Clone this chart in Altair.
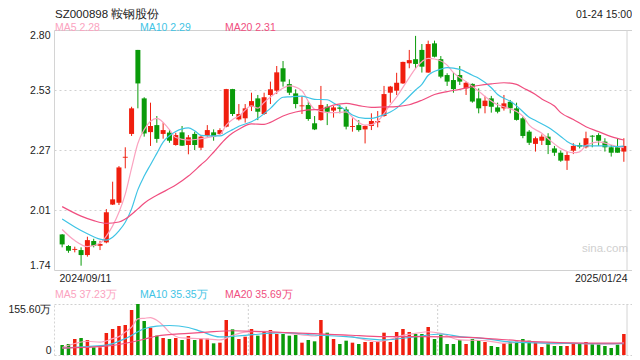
import altair as alt
import pandas as pd

# ---------------- data ----------------
x_tick_values = [-0.5, 89.5]
x_tick_labels = ["2024/09/11", "2025/01/24"]

opens = [1.897, 1.846, 1.829, 1.828, 1.806, 1.868, 1.847, 1.862, 2.029, 2.037,
         2.236, 2.341, 2.712, 2.498, 2.349, 2.380, 2.341, 2.347, 2.292, 2.348,
         2.292, 2.341, 2.280, 2.333, 2.348, 2.341, 2.373, 2.539, 2.405, 2.410,
         2.461, 2.498, 2.429, 2.513, 2.532, 2.631, 2.561, 2.520, 2.463, 2.469,
         2.388, 2.402, 2.461, 2.444, 2.458, 2.449, 2.372, 2.380, 2.361, 2.376,
         2.392, 2.420, 2.523, 2.532, 2.564, 2.653, 2.671, 2.712, 2.612, 2.741,
         2.671, 2.601, 2.579, 2.601, 2.542, 2.562, 2.498, 2.464, 2.498, 2.458,
         2.454, 2.483, 2.454, 2.410, 2.351, 2.297, 2.311, 2.329, 2.277, 2.258,
         2.223, 2.267, 2.292, 2.282, 2.333, 2.336, 2.307, 2.282, 2.282, 2.263]
closes = [1.853, 1.825, 1.833, 1.806, 1.872, 1.846, 1.855, 1.995, 2.052, 2.193,
          2.240, 2.454, 2.564, 2.343, 2.376, 2.319, 2.358, 2.311, 2.336, 2.289,
          2.326, 2.292, 2.329, 2.358, 2.329, 2.358, 2.539, 2.429, 2.429, 2.454,
          2.486, 2.439, 2.503, 2.538, 2.613, 2.572, 2.523, 2.473, 2.467, 2.407,
          2.361, 2.469, 2.439, 2.458, 2.452, 2.373, 2.376, 2.358, 2.376, 2.398,
          2.398, 2.517, 2.550, 2.567, 2.659, 2.667, 2.650, 2.638, 2.738, 2.682,
          2.594, 2.572, 2.539, 2.572, 2.567, 2.484, 2.454, 2.488, 2.461, 2.439,
          2.476, 2.454, 2.403, 2.332, 2.302, 2.322, 2.329, 2.292, 2.258, 2.223,
          2.248, 2.288, 2.285, 2.322, 2.329, 2.311, 2.282, 2.258, 2.258, 2.288]
highs = [1.899, 1.850, 1.843, 1.840, 1.887, 1.878, 1.869, 2.009, 2.130, 2.199,
         2.282, 2.461, 2.712, 2.503, 2.479, 2.420, 2.391, 2.358, 2.346, 2.376,
         2.336, 2.351, 2.336, 2.380, 2.361, 2.366, 2.540, 2.540, 2.473, 2.473,
         2.523, 2.513, 2.523, 2.572, 2.641, 2.663, 2.582, 2.538, 2.508, 2.483,
         2.420, 2.553, 2.473, 2.464, 2.469, 2.461, 2.410, 2.402, 2.380, 2.432,
         2.442, 2.553, 2.553, 2.611, 2.660, 2.712, 2.774, 2.738, 2.753, 2.753,
         2.685, 2.609, 2.612, 2.641, 2.572, 2.564, 2.542, 2.509, 2.509, 2.479,
         2.513, 2.491, 2.479, 2.417, 2.358, 2.329, 2.339, 2.344, 2.288, 2.267,
         2.263, 2.300, 2.302, 2.351, 2.336, 2.344, 2.322, 2.292, 2.322, 2.322]
lows = [1.840, 1.816, 1.818, 1.759, 1.799, 1.840, 1.828, 1.858, 2.027, 2.027,
        2.189, 2.332, 2.454, 2.329, 2.288, 2.302, 2.320, 2.302, 2.289, 2.288,
        2.251, 2.270, 2.270, 2.329, 2.311, 2.336, 2.370, 2.420, 2.400, 2.391,
        2.442, 2.402, 2.425, 2.473, 2.517, 2.550, 2.513, 2.454, 2.429, 2.399,
        2.358, 2.399, 2.380, 2.413, 2.432, 2.361, 2.351, 2.351, 2.299, 2.358,
        2.370, 2.417, 2.479, 2.513, 2.562, 2.631, 2.631, 2.612, 2.611, 2.679,
        2.587, 2.553, 2.523, 2.557, 2.513, 2.479, 2.432, 2.432, 2.435, 2.432,
        2.444, 2.432, 2.400, 2.322, 2.292, 2.263, 2.292, 2.252, 2.244, 2.218,
        2.182, 2.252, 2.277, 2.277, 2.282, 2.288, 2.263, 2.241, 2.258, 2.218]
volumes = [30.5, 33.6, 48.8, 51.9, 45.8, 23.4, 23.4, 67.1, 79.3, 88.5,
           91.5, 137.3, 155.6, 103.7, 83.4, 59.0, 51.9, 48.8, 51.9, 45.8,
           58.0, 45.8, 49.8, 49.8, 35.6, 37.6, 106.8, 78.3, 48.8, 55.9,
           79.3, 59.0, 73.2, 76.3, 64.1, 64.1, 59.0, 61.0, 37.6, 45.8,
           41.7, 106.8, 68.1, 48.8, 33.6, 43.7, 37.6, 33.6, 39.7, 39.7,
           39.7, 68.1, 39.7, 70.2, 79.3, 70.2, 64.1, 64.1, 85.4, 48.8,
           62.0, 33.6, 33.6, 45.8, 33.6, 48.8, 45.8, 39.7, 27.5, 24.4,
           35.6, 39.7, 40.7, 48.8, 43.7, 39.7, 24.4, 37.6, 27.5, 27.5,
           27.5, 35.6, 33.6, 39.7, 33.6, 33.6, 27.5, 21.4, 31.6, 64.1]

ma5_idx = [0, 2, 4, 6, 7, 8, 9, 10, 11, 12, 13, 15, 17, 18, 20, 22, 24, 25, 26, 27, 28,
           30, 31, 32, 34, 36, 38, 39, 40, 42, 43, 45, 46, 48, 49, 50, 52, 53, 55, 56,
           58, 59, 61, 62, 64, 66, 67, 69, 70, 72, 73, 74, 76, 77, 79, 81, 82, 83, 85,
           86, 88, 89]
ma5_val = [1.919, 1.870, 1.843, 1.858, 1.890, 1.935, 1.995, 2.075, 2.190, 2.300, 2.360,
           2.410, 2.360, 2.325, 2.314, 2.320, 2.330, 2.338, 2.380, 2.405, 2.420,
           2.465, 2.455, 2.480, 2.525, 2.553, 2.532, 2.485, 2.450, 2.435, 2.435,
           2.438, 2.415, 2.380, 2.382, 2.398, 2.470, 2.505, 2.590, 2.631, 2.675,
           2.672, 2.645, 2.612, 2.572, 2.530, 2.506, 2.470, 2.461, 2.440, 2.420,
           2.380, 2.344, 2.320, 2.277, 2.258, 2.262, 2.290, 2.306, 2.300, 2.285, 2.280]
ma10_idx = [0, 2, 4, 6, 7, 8, 9, 10, 11, 12, 13, 14, 15, 16, 17, 18, 20, 21, 22, 24, 25,
            26, 27, 28, 30, 31, 33, 35, 36, 38, 40, 42, 43, 45, 46, 48, 49, 50, 52, 53,
            54, 56, 57, 58, 60, 61, 63, 65, 66, 68, 69, 71, 72, 74, 75, 77, 79, 80, 82,
            84, 86, 88, 89]
ma10_val = [1.965, 1.930, 1.900, 1.876, 1.872, 1.885, 1.913, 1.951, 2.010, 2.095, 2.155,
            2.205, 2.255, 2.305, 2.333, 2.352, 2.368, 2.355, 2.335, 2.332, 2.332,
            2.345, 2.360, 2.375, 2.395, 2.410, 2.454, 2.503, 2.505, 2.508, 2.494,
            2.492, 2.478, 2.445, 2.425, 2.410, 2.410, 2.416, 2.438, 2.455, 2.480,
            2.535, 2.560, 2.600, 2.627, 2.634, 2.626, 2.600, 2.587, 2.545, 2.515,
            2.485, 2.465, 2.415, 2.400, 2.370, 2.330, 2.308, 2.288, 2.288, 2.288,
            2.285, 2.287]
ma20_idx = [0, 3, 5, 7, 9, 10, 12, 13, 15, 18, 20, 22, 23, 24, 26, 27, 28, 30, 32, 33,
            35, 37, 39, 41, 43, 45, 47, 49, 51, 53, 55, 57, 59, 61, 63, 66, 68, 70, 72,
            73, 75, 76, 78, 79, 81, 83, 85, 87, 89]
ma20_val = [2.020, 1.978, 1.958, 1.946, 1.952, 1.965, 2.010, 2.035, 2.070, 2.115, 2.155,
            2.205, 2.230, 2.260, 2.322, 2.345, 2.362, 2.385, 2.383, 2.392, 2.420,
            2.438, 2.447, 2.450, 2.468, 2.476, 2.466, 2.458, 2.460, 2.462, 2.470,
            2.490, 2.515, 2.528, 2.538, 2.555, 2.562, 2.567, 2.560, 2.545, 2.515,
            2.495, 2.464, 2.435, 2.405, 2.373, 2.351, 2.329, 2.314]

vma5_idx = [0, 2, 4, 6, 8, 9, 10, 11, 12, 13, 14, 15, 16, 17, 19, 22, 25, 27, 29, 32, 36,
            40, 41, 43, 45, 48, 50, 52, 54, 56, 58, 60, 63, 67, 70, 74, 77, 81, 84, 87, 89]
vma5_val = [23, 35, 42, 39, 50, 56, 70, 85, 110, 112, 114, 106, 90, 69, 52, 50, 46, 60,
            70, 72, 66, 58, 61, 62, 60, 46, 41, 48, 60, 66, 71, 66, 46, 44, 36, 41, 34,
            36, 34, 33, 37]
vma10_idx = [0, 4, 7, 10, 13, 15, 17, 20, 22, 25, 29, 35, 40, 45, 51, 56, 60, 63, 67,
             71, 77, 83, 89]
vma10_val = [21, 26, 30, 50, 80, 88, 90, 84, 72, 55, 60, 68, 61, 56, 46, 56, 64, 56, 50,
             40, 36, 35, 35]
vma20_idx = [0, 7, 13, 15, 20, 23, 27, 32, 40, 45, 51, 56, 62, 67, 72, 77, 83, 89]
vma20_val = [21, 27, 48, 58, 66, 70, 74, 71, 65, 61, 56, 56, 55, 51, 44, 39, 36, 36]

ma_names = ["MA5", "MA10", "MA20"]
price_ma_last = [2.28, 2.29, 2.31]
vol_ma_last = [37.23, 35.35, 35.69]

price_domain = [1.74, 2.80]
price_ticks = [1.74, 2.005, 2.27, 2.535, 2.80]
price_tick_labels = ["1.74", "2.01", "2.27", "2.53", "2.80"]
vol_domain = [0, 155.6]
vol_ticks = [0, 155.6]
vol_tick_labels = ["0", "155.60万"]
vol_vgrid = [29.5, 59.5]

title_text = "SZ000898 鞍钢股份"
time_text = "01-24 15:00"
watermark = "sina.com"

# ---------------- styles ----------------
FONT = "Liberation Sans"
RED = "#f01e0e"
GREEN = "#0a9b0a"
MA_COLORS = ["#fba3c0", "#3fc4e5", "#f04f80"]
BORDER = "#d4d4d4"
GRID = "#d0d0d0"
TXT = "#222222"
W, H = 578, 325

n = len(opens)
candles = pd.DataFrame({
    "idx": list(range(n)), "open": opens, "close": closes,
    "high": highs, "low": lows, "vol": volumes,
})
candles["dir"] = ["up" if c >= o else "down" for o, c in zip(opens, closes)]


def ma_frame(pairs):
    rows = []
    for name, idxs, vals in pairs:
        for i, v in zip(idxs, vals):
            rows.append({"idx": i, "val": v, "ma": name})
    return pd.DataFrame(rows)


price_ma = ma_frame([("MA5", ma5_idx, ma5_val), ("MA10", ma10_idx, ma10_val),
                     ("MA20", ma20_idx, ma20_val)])
vol_ma = ma_frame([("MA5", vma5_idx, vma5_val), ("MA10", vma10_idx, vma10_val),
                   ("MA20", vma20_idx, vma20_val)])


def label_expr(values, labels):
    expr = "''"
    for v, l in reversed(list(zip(values, labels))):
        expr = f"abs(datum.value - {v}) < 1e-6 ? '{l}' : ({expr})"
    return expr


x_scale = alt.Scale(domain=[x_tick_values[0], x_tick_values[-1]], nice=False, zero=False)
x_axis = alt.Axis(orient="bottom", offset=-85, values=x_tick_values,
                  labelExpr=label_expr(x_tick_values, x_tick_labels),
                  labelFlush=False,
                  labelAlign={"condition": {"test": f"datum.value < {x_tick_values[0] + 1}",
                                            "value": "left"}, "value": "right"},
                  ticks=False, domain=False, grid=False,
                  labelPadding=3, labelFontSize=10.5, labelColor=TXT, labelFont=FONT,
                  labelOverlap=False, title=None)
X = alt.X("idx:Q", scale=x_scale, axis=x_axis)

py_scale = alt.Scale(domain=price_domain, range=[240, 0], nice=False, zero=False)
py_axis = alt.Axis(orient="left", values=price_ticks,
                   labelExpr=label_expr(price_ticks, price_tick_labels),
                   labelFlush=True, ticks=False, tickSize=0, labelPadding=4,
                   domain=True, domainColor=BORDER, grid=True, gridColor=GRID,
                   gridDash={"condition": {"test": "datum.value < 1.75 || datum.value > 2.79",
                                           "value": []}, "value": [2, 3]},
                   labelFontSize=10.5, labelColor=TXT, labelFont=FONT, title=None)

vy_scale = alt.Scale(domain=vol_domain, range=[325, 274], nice=False, zero=False)
vy_axis = alt.Axis(orient="left", values=vol_ticks,
                   labelExpr=label_expr(vol_ticks, vol_tick_labels),
                   labelFlush=True, ticks=False, tickSize=0, labelPadding=3,
                   domain=True, domainColor=BORDER, domainDash=[2, 2],
                   grid=True, gridColor=GRID, gridDash=[2, 2],
                   labelFontSize=10.5, labelColor=TXT, labelFont=FONT, title=None)

dir_color = alt.Color("dir:N", scale=alt.Scale(domain=["up", "down"], range=[RED, GREEN]),
                      legend=None)
ma_stroke = alt.Stroke("ma:N", scale=alt.Scale(domain=ma_names, range=MA_COLORS), legend=None)

base = alt.Chart(candles)

wick = base.mark_rule(strokeWidth=1).encode(
    x=X, y=alt.Y("low:Q", scale=py_scale, axis=py_axis), y2="high:Q", color=dir_color)
body = base.mark_bar(size=5).encode(
    x=X, y=alt.Y("open:Q", scale=py_scale, axis=py_axis), y2="close:Q", color=dir_color)
pma = alt.Chart(price_ma).mark_line(interpolate="monotone", strokeWidth=1.2).encode(
    x=X, y=alt.Y("val:Q", scale=py_scale, axis=py_axis), stroke=ma_stroke, detail="ma:N")
p_border = alt.Chart(pd.DataFrame({"idx": [x_tick_values[-1]], "lo": [price_domain[0]],
                                   "hi": [price_domain[1]]})).mark_rule(
    color=BORDER, strokeWidth=1).encode(
    x=X, y=alt.Y("lo:Q", scale=py_scale, axis=py_axis), y2="hi:Q")

price_layer = alt.layer(p_border, wick, body, pma)

vbar = base.mark_bar(size=3.5).encode(
    x=X, y=alt.Y("vol:Q", scale=vy_scale, axis=vy_axis), y2=alt.datum(0), color=dir_color)
vma = alt.Chart(vol_ma).mark_line(interpolate="monotone", strokeWidth=1.2).encode(
    x=X, y=alt.Y("val:Q", scale=vy_scale, axis=vy_axis), stroke=ma_stroke, detail="ma:N")
v_grid = alt.Chart(pd.DataFrame({"idx": vol_vgrid, "lo": [vol_domain[0]] * 2,
                                 "hi": [vol_domain[1]] * 2})).mark_rule(
    color=GRID, strokeWidth=1, strokeDash=[2, 2]).encode(
    x=X, y=alt.Y("lo:Q", scale=vy_scale, axis=vy_axis), y2="hi:Q")
v_border = alt.Chart(pd.DataFrame({"idx": [x_tick_values[-1]], "lo": [vol_domain[0]],
                                   "hi": [vol_domain[1]]})).mark_rule(
    color=BORDER, strokeWidth=1).encode(
    x=X, y=alt.Y("lo:Q", scale=vy_scale, axis=vy_axis), y2="hi:Q")

vol_layer = alt.layer(v_grid, v_border, vbar, vma)


def text(t, x, y, color, size, align="left"):
    return alt.Chart(pd.DataFrame({"t": [t]})).mark_text(
        align=align, baseline="middle", color=color, fontSize=size, font=FONT).encode(
        x=alt.value(x), y=alt.value(y), text="t:N")


texts = [
    text(title_text, 1, -15.5, TXT, 11.5),
    text(time_text, W, -15.5, TXT, 10.5, align="right"),
    text(watermark, 528, 219, "#d0d0d0", 11.5),
]
legend_x = [1, 86, 171]
for name, val, col, lx in zip(ma_names, price_ma_last, MA_COLORS, legend_x):
    texts.append(text(f"{name} {val:.2f}", lx, -2.5, col, 10.5))
for name, val, col, lx in zip(ma_names, vol_ma_last, MA_COLORS, legend_x):
    texts.append(text(f"{name} {val:.2f}万", lx, 265, col, 10.5))

chart = alt.layer(price_layer, vol_layer, *texts).resolve_scale(
    y="independent").properties(
    width=W, height=H,
    padding={"left": 46, "top": 22, "right": 0, "bottom": 5},
    autosize=alt.AutoSizeParams(type="none"),
    background="white",
).configure_view(stroke=None)

chart.save("out.html", embed_options={"renderer": "svg", "actions": False})
